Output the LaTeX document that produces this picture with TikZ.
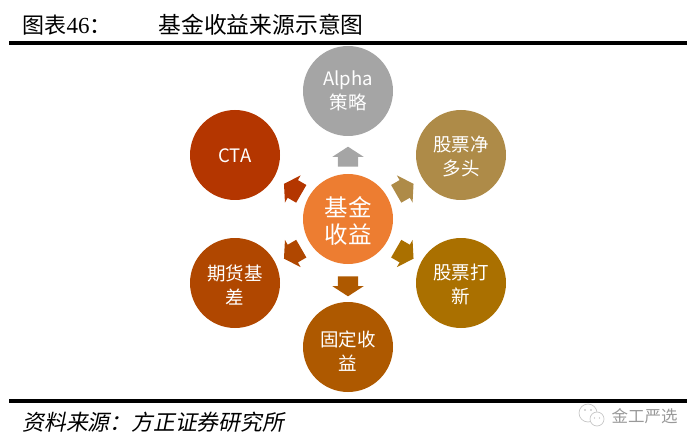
\documentclass[tikz,border=0pt]{standalone}
\usepackage{fontspec}
\setmainfont{Liberation Serif}
\newfontfamily\cjk{Noto Sans CJK SC}
\newfontfamily\cjkslant[FakeSlant=0.2]{Noto Sans CJK SC}
\usetikzlibrary{shapes.arrows}
\definecolor{coreorange}{HTML}{ED7D31}
\definecolor{alphagray}{HTML}{A5A5A5}
\definecolor{longtan}{HTML}{AE8B48}
\definecolor{ipogold}{HTML}{AA7000}
\definecolor{bondbrown}{HTML}{AE5900}
\definecolor{basisrust}{HTML}{B04700}
\definecolor{ctared}{HTML}{B43600}

\begin{document}
\begin{tikzpicture}[
  x=1pt, y=-1pt,
  every node/.style={font=\cjk},
  core/.style={circle, minimum size=90pt, inner sep=0pt, fill=coreorange,
               text=white, font=\cjk\fontsize{23.5}{27}\selectfont, align=center},
  source/.style={circle, minimum size=90pt, inner sep=0pt, text=white,
                 font=\cjk\fontsize{18.5}{24}\selectfont, align=center},
  flow/.style={single arrow, minimum width=31pt, minimum height=20pt,
               inner xsep=0pt, inner ysep=10pt, single arrow head extend=5.5pt,
               single arrow tip angle=114},
  rule/.style={line width=3.5pt, black},
  bubble/.style={black!22, fill=white, line width=0.7pt},
]
\useasboundingbox (0,0) rectangle (700,446);
\node[anchor=west, font=\cjk\fontsize{22}{24}\selectfont] (figno) at (19,25)
  {图表{\fontsize{23}{24}\selectfont\rmfamily 46}：};
\node[anchor=west, font=\cjk\fontsize{22.8}{24}\selectfont] (title) at (155,25)
  {基金收益来源示意图};
\coordinate (ruleAl) at (9,43);
\coordinate (ruleAr) at (687,43);
\coordinate (ruleBl) at (9,401);
\coordinate (ruleBr) at (687,401);
\draw[rule] (ruleAl) -- (ruleAr);
\draw[rule] (ruleBl) -- (ruleBr);

\node[core] (fund) at (348,219) {\rule{0pt}{24pt}基金\\收益};
\node[source, fill=alphagray] (alpha) at (348,91) {Alpha\\策略};
\node[source, fill=longtan] (stock) at (461,155) {\rule{0pt}{19pt}股票净\\多头};
\node[source, fill=ipogold] (ipo) at (461,283) {\rule{0pt}{19pt}股票打\\新};
\node[source, fill=bondbrown] (bond) at (348,347) {\rule{0pt}{24pt}固定收\\益};
\node[source, fill=basisrust] (basis) at (235,283) {\rule{0pt}{19pt}期货基\\差};
\node[source, fill=ctared] (cta) at (235,155) {\rule{0pt}{15pt}CTA};

\node[flow, fill=alphagray, rotate=90] (toalpha) at (348,160) {};
\node[flow, fill=longtan, rotate=30] (tostock) at (402,190.5) {};
\node[flow, fill=ipogold, rotate=-30] (toipo) at (402,252) {};
\node[flow, fill=bondbrown, rotate=-90] (tobond) at (348,283) {};
\node[flow, fill=basisrust, rotate=210] (tobasis) at (295.5,252) {};
\node[flow, fill=ctared, rotate=150] (tocta) at (295.5,190.5) {};

\node[anchor=west, font=\cjkslant\fontsize{21.8}{24}\selectfont] (source) at (19,422)
  {资料来源：方正证券研究所};
\node[anchor=west, text=black!40, font=\cjk\fontsize{16.5}{18}\selectfont] (mark) at (608,416)
  {金工严选};
% wechat bubbles
\draw[bubble] (588,413) circle (9pt);
\draw[bubble] (597,419) circle (7pt);
\fill[black!30] (585,410) circle (0.8pt) (591,410) circle (0.8pt)
  (594.5,418) circle (0.7pt) (599.5,418) circle (0.7pt);
\end{tikzpicture}
\end{document}
